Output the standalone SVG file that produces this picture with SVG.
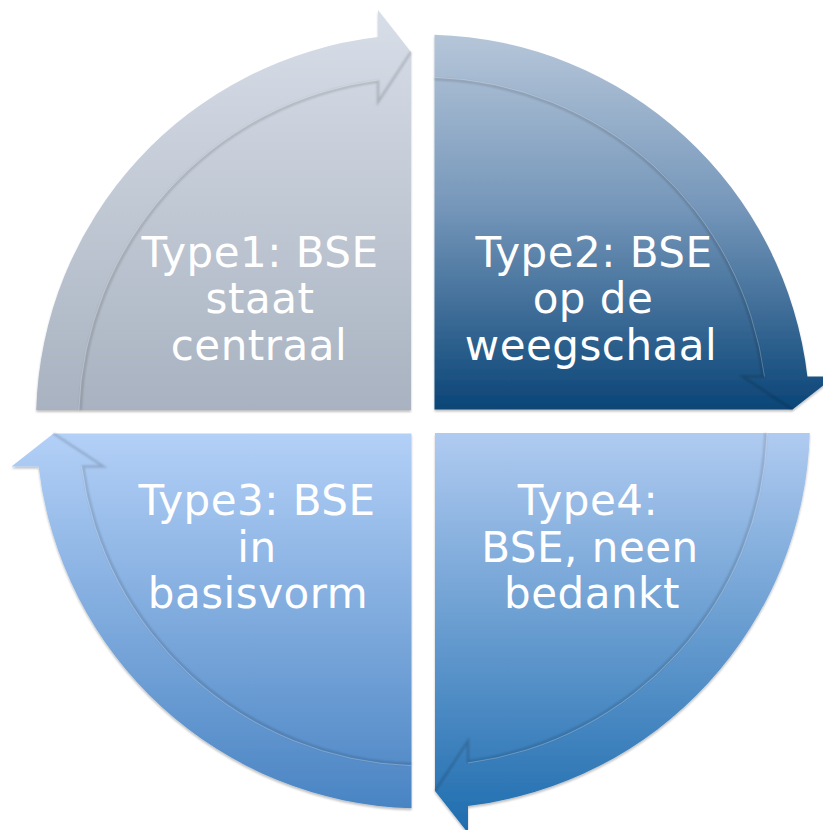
<svg xmlns="http://www.w3.org/2000/svg" width="823" height="830" viewBox="0 0 823 830">
<defs>
  <linearGradient id="g1" x1="0" y1="0" x2="0" y2="1">
    <stop offset="0" stop-color="#d8dee8"/>
    <stop offset="1" stop-color="#a8b2c0"/>
  </linearGradient>
  <linearGradient id="g2" x1="0" y1="0" x2="0" y2="1">
    <stop offset="0" stop-color="#b6c6d9"/>
    <stop offset="0.45" stop-color="#7798bb"/>
    <stop offset="1" stop-color="#0a4577"/>
  </linearGradient>
  <linearGradient id="g3" x1="0" y1="0" x2="0" y2="1">
    <stop offset="0" stop-color="#b3d0f7"/>
    <stop offset="1" stop-color="#4984c3"/>
  </linearGradient>
  <linearGradient id="g4" x1="0" y1="0" x2="0" y2="1">
    <stop offset="0" stop-color="#b0cbf1"/>
    <stop offset="1" stop-color="#1d6cae"/>
  </linearGradient>
  <filter id="sh" x="-5%" y="-5%" width="110%" height="110%">
    <feGaussianBlur in="SourceAlpha" stdDeviation="1.2"/>
    <feOffset dx="0" dy="1.5"/>
    <feComponentTransfer><feFuncA type="linear" slope="0.25"/></feComponentTransfer>
    <feMerge><feMergeNode/><feMergeNode in="SourceGraphic"/></feMerge>
  </filter>
  <filter id="soft" x="-5%" y="-5%" width="110%" height="110%">
    <feGaussianBlur stdDeviation="1"/>
  </filter>
</defs>
<style>
  .lbl { font-family: "DejaVu Sans", Verdana, sans-serif; font-size: 42px; letter-spacing: 0.5px; fill: #ffffff; text-anchor: middle; }
  .edge { fill: none; stroke: #000000; stroke-opacity: 0.16; stroke-width: 2.5; }
  .hl { fill: none; stroke: #ffffff; stroke-opacity: 0.25; stroke-width: 1; }
</style>

<g id="type1">
  <path d="M411,410 L36.2,410 A387,387 0 0 1 378,37.1 L378,10 L411,52 Z" fill="url(#g1)" filter="url(#sh)"/>
  <path class="edge" filter="url(#soft)" d="M80.5,410 A343,343 0 0 1 378,81.5 L378,102 L411,52"/>
  <path class="hl" d="M78.8,410 A344.4,344.4 0 0 1 378,80"/>
  <text class="lbl" x="260" y="267">Type1: BSE</text>
  <text class="lbl" x="260" y="313">staat</text>
  <text class="lbl" x="259" y="360">centraal</text>
</g>

<g id="type2">
  <path d="M434.5,409.5 L434.5,34.7 A387,387 0 0 1 807.4,376.5 L834.5,376.5 L792.5,409.5 Z" fill="url(#g2)" filter="url(#sh)"/>
  <path class="edge" filter="url(#soft)" d="M434.5,79 A343,343 0 0 1 763,376.5 L742.5,376.5 L792.5,409.5"/>
  <path class="hl" d="M434.5,77.3 A344.4,344.4 0 0 1 764.5,376.5"/>
  <text class="lbl" x="594" y="267">Type2: BSE</text>
  <text class="lbl" x="593" y="313">op de</text>
  <text class="lbl" x="591" y="360">weegschaal</text>
</g>

<g id="type3">
  <path d="M411.5,433.5 L411.5,808.3 A387,387 0 0 1 38.6,466.5 L11.5,466.5 L53.5,433.5 Z" fill="url(#g3)" filter="url(#sh)"/>
  <path class="edge" filter="url(#soft)" d="M411.5,764 A343,343 0 0 1 83,466.5 L103.5,466.5 L53.5,433.5"/>
  <path class="hl" d="M411.5,765.7 A344.4,344.4 0 0 1 81.5,466.5"/>
  <text class="lbl" x="257" y="515">Type3: BSE</text>
  <text class="lbl" x="257" y="562">in</text>
  <text class="lbl" x="258" y="608">basisvorm</text>
</g>

<g id="type4">
  <path d="M435,433 L809.8,433 A387,387 0 0 1 468,805.9 L468,833 L435,791 Z" fill="url(#g4)" filter="url(#sh)"/>
  <path class="edge" filter="url(#soft)" d="M765.5,433 A343,343 0 0 1 468,761.5 L468,741 L435,791"/>
  <path class="hl" d="M767.2,433 A344.4,344.4 0 0 1 468,763"/>
  <text class="lbl" x="588" y="515">Type4:</text>
  <text class="lbl" x="590" y="562">BSE, neen</text>
  <text class="lbl" x="592" y="608">bedankt</text>
</g>

<g id="connectors"></g>
</svg>
